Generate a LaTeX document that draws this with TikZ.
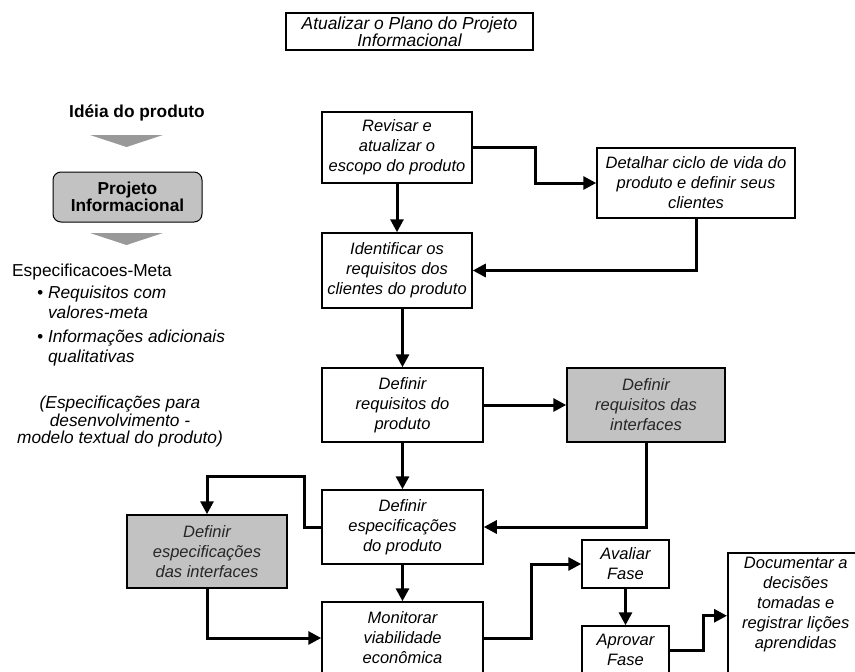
\documentclass[tikz,border=0pt]{standalone}
\usepackage{fontspec}
\setmainfont{Liberation Sans}
\usetikzlibrary{arrows.meta}
\begin{document}
\begin{tikzpicture}[x=1pt,y=-1pt,
  box/.style={draw,line width=1.5pt,fill=white,align=center,inner sep=0pt,
    font=\fontsize{16.5}{20}\selectfont\itshape},
  graybox/.style={box,fill=black!24,text=black!85},
  conn/.style={line width=3pt,-{Triangle[length=13pt,width=13pt]}},
  note/.style={anchor=west,align=left,inner sep=0pt,font=\fontsize{17.3}{20}\selectfont}]
  \useasboundingbox (0,0) rectangle (855,672);
  \clip (0,0) rectangle (855,672);
  % title
  \node[box,minimum width=247pt,minimum height=37pt,line width=1.2pt,
    font=\fontsize{17.4}{17}\selectfont\itshape] (plano) at (409.5,31.5)
    {Atualizar o Plano do Projeto\\Informacional};
  % left column
  \node[inner sep=0pt,font=\fontsize{17.3}{20}\selectfont\bfseries] (ideia) at (137,113) {Idéia do produto};
  \fill[black!40] (90,135) -- (163,135) -- (126.5,147) -- cycle;
  \node[draw,rounded corners=8pt,line width=1pt,fill=black!24,align=center,inner sep=0pt,
    minimum width=149pt,minimum height=50pt,font=\fontsize{17.3}{17}\selectfont\bfseries]
    (projinf) at (127.5,197) {Projeto\\Informacional};
  \fill[black!40] (90,233) -- (163,233) -- (126.5,245) -- cycle;
  \node[note] (espmeta) at (12,272) {Especificacoes-Meta};
  \node[note,font=\fontsize{17.3}{20}\selectfont\itshape] (bullet1) at (37,302)
    {\textbullet\ Requisitos com\\\phantom{\textbullet\ }valores-meta};
  \node[note,font=\fontsize{17.3}{20}\selectfont\itshape] (bullet2) at (37,348)
    {\textbullet\ Informações adicionais\\\phantom{\textbullet\ }qualitativas};
  \node[align=center,inner sep=0pt,font=\fontsize{17.3}{17.5}\selectfont\itshape]
    (espdes) at (120,422) {(Especificações para\\desenvolvimento -\\modelo textual do produto)};
  % process boxes
  \node[box,minimum width=150pt,minimum height=71pt] (revisar) at (397,147.5)
    {Revisar e\\atualizar o\\escopo do produto};
  \node[box,minimum width=198pt,minimum height=70pt] (detalhar) at (696,183)
    {Detalhar ciclo de vida do\\produto e definir seus\\clientes};
  \node[box,minimum width=150pt,minimum height=75pt] (identificar) at (397,270.5)
    {Identificar os\\requisitos dos\\clientes do produto};
  \node[box,minimum width=161pt,minimum height=74pt] (reqprod) at (402.5,405)
    {Definir\\requisitos do\\produto};
  \node[graybox,minimum width=158pt,minimum height=74pt] (reqint) at (646,405)
    {Definir\\requisitos das\\interfaces};
  \node[box,minimum width=161pt,minimum height=74pt] (espprod) at (402.5,527)
    {Definir\\especificações\\do produto};
  \node[graybox,minimum width=160pt,minimum height=73pt] (espint) at (207,551.5)
    {Definir\\especificações\\das interfaces};
  \node[box,minimum width=161pt,minimum height=72pt] (monitorar) at (402.5,638)
    {Monitorar\\viabilidade\\econômica};
  \node[box,minimum width=87pt,minimum height=48pt] (avaliar) at (625.5,564) {Avaliar\\Fase};
  \node[box,minimum width=87pt,minimum height=48pt] (aprovar) at (625.5,650) {Aprovar\\Fase};
  \node[box,anchor=north west,minimum width=136pt,minimum height=126pt] (documentar) at (727,552)
    {Documentar a\\decisões\\tomadas e\\registrar lições\\aprendidas\\\strut};
  % connectors
  \draw[conn] (revisar.east) -- ++(63,0) |- (detalhar.west);
  \draw[conn] (detalhar.south) |- (identificar.east);
  \draw[conn] (revisar) -- (identificar);
  \draw[conn] (identificar.south -| reqprod.north) -- (reqprod.north);
  \draw[conn] (reqprod) -- (reqint);
  \draw[conn] (reqprod) -- (espprod);
  \draw[conn] (reqint.south) |- (espprod.east);
  \draw[conn] (espprod.west) -- ++(-17,0) |- ([yshift=38pt]espint.north) -- (espint.north);
  \draw[conn] (espint.south) |- (monitorar.west);
  \draw[conn] (espprod) -- (monitorar);
  \draw[conn] (monitorar.east) -- ++(48,0) |- (avaliar.west);
  \draw[conn] (avaliar) -- (aprovar);
  \draw[conn] (aprovar.east) -- ++(34,0) |- (documentar.west);
\end{tikzpicture}
\end{document}
